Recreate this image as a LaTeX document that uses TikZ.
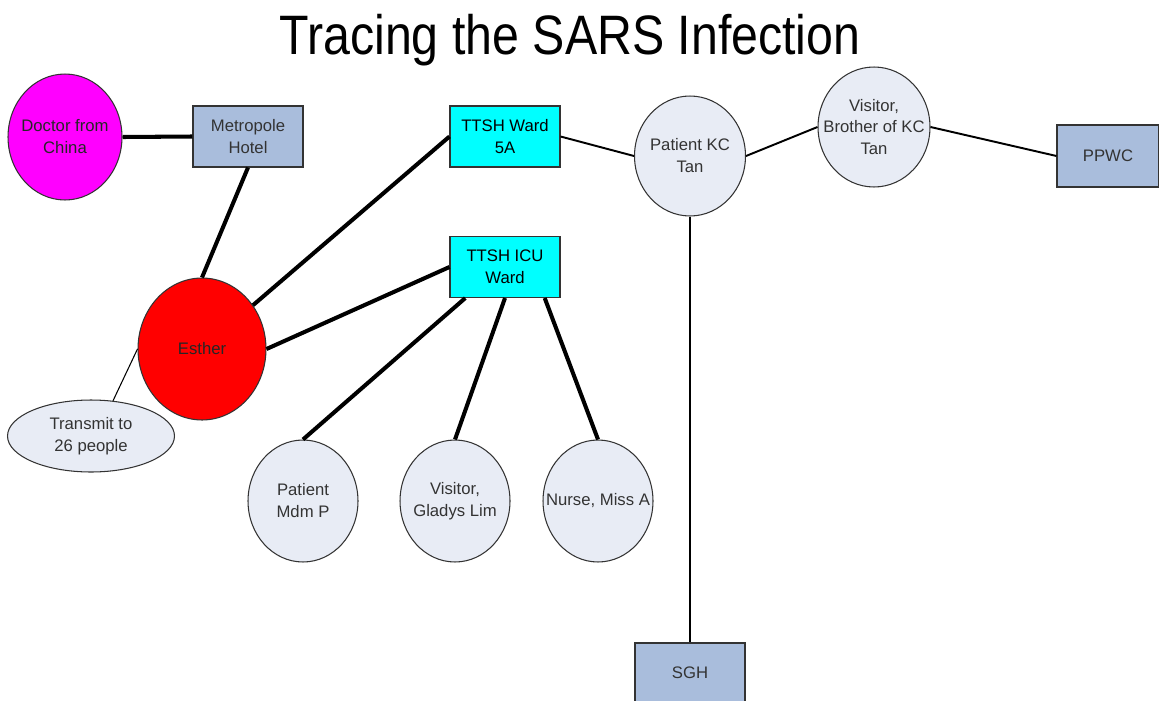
\documentclass[tikz,border=0pt]{standalone}
\usepackage{fontspec}
\setmainfont{Liberation Sans}
\usepackage{tikz}
\usetikzlibrary{shapes.geometric}
\definecolor{boxblue}{HTML}{A9BDDC}
\definecolor{personfill}{HTML}{E8ECF5}
\definecolor{inkgray}{HTML}{333333}
\definecolor{wardcyan}{HTML}{00FFFF}
\definecolor{doctorpink}{HTML}{FF00FF}
\definecolor{esthered}{HTML}{FF0000}
\tikzset{
  place/.style={draw=inkgray, line width=0.6pt, fill=boxblue, minimum width=2.2cm, minimum height=1.22cm,
    inner sep=0pt, align=center, text=inkgray, font=\fontsize{9.5}{12.5}\selectfont},
  ward/.style={place, fill=wardcyan, text=black},
  person/.style={ellipse, draw=inkgray, line width=0.6pt, fill=personfill, inner sep=0pt,
    minimum width=2.2cm, minimum height=2.44cm},
  every label/.style={align=center, text=inkgray, font=\fontsize{9.5}{12.5}\selectfont},
  link/.style={line width=2.3pt},
  weak/.style={line width=1.1pt},
  note/.style={line width=0.6pt}
}

\begin{document}
\begin{tikzpicture}[x=0.02cm,y=-0.02cm]
\clip (0,0) rectangle (1159,700);
\node[anchor=base, font=\fontsize{27.5}{30}\selectfont] (title) at (570,54) {\scalebox{1}[1.15]{Tracing the SARS Infection}};
\node[person, fill=doctorpink, minimum width=2.28cm, minimum height=2.52cm,
  label={[text=black!85]center:Doctor from\\China}] (doctor) at (65,137) {};
\node[place] (metro) at (248,136.5) {Metropole\\Hotel};
\node[ward] (ward5a) at (505,136.5) {TTSH Ward\\5A};
\node[person, minimum width=2.22cm, minimum height=2.4cm, label={center:Patient KC\\Tan}] (kctan) at (690,156) {};
\node[person, minimum width=2.24cm, minimum height=2.4cm, label={center:Visitor,\\Brother of KC\\Tan}] (visitor) at (874,127) {};
\node[place, minimum width=2.04cm, minimum height=1.24cm] (ppwc) at (1108,156) {PPWC};
\node[ward] (icu) at (505,267) {TTSH ICU\\Ward};
\node[person, fill=esthered, minimum width=2.56cm, minimum height=2.84cm,
  label={[text=black!85]center:Esther}] (esther) at (202,349) {};
\node[person, minimum width=3.34cm, minimum height=1.44cm, label={center:Transmit to\\26 people}] (transmit) at (91,436) {};
\node[person, label={center:Patient\\Mdm P}] (mdmp) at (303,501) {};
\node[person, label={center:Visitor,\\Gladys Lim}] (gladys) at (455,501) {};
\node[person, label={center:Nurse, Miss A}] (nurse) at (598,501) {};
\node[place, minimum height=1.2cm] (sgh) at (690,673) {SGH};
\draw[link] (doctor.east) -- (metro.west);
\draw[link] (metro.south) -- (esther.north);
\draw[link] (esther) -- (ward5a.west);
\draw[link] (esther.east) -- (icu.west);
\draw[link] (icu.218) -- (mdmp.north);
\draw[link] (icu.south) -- (gladys.north);
\draw[link] (icu.322) -- (nurse.north);
\draw[weak] (ward5a.east) -- (kctan.west);
\draw[weak] (kctan.east) -- (visitor.west);
\draw[weak] (visitor.east) -- (ppwc.west);
\draw[weak] (kctan.south) -- (sgh.north);
\draw[note] (esther.west) -- (transmit.58);
\end{tikzpicture}
\end{document}
